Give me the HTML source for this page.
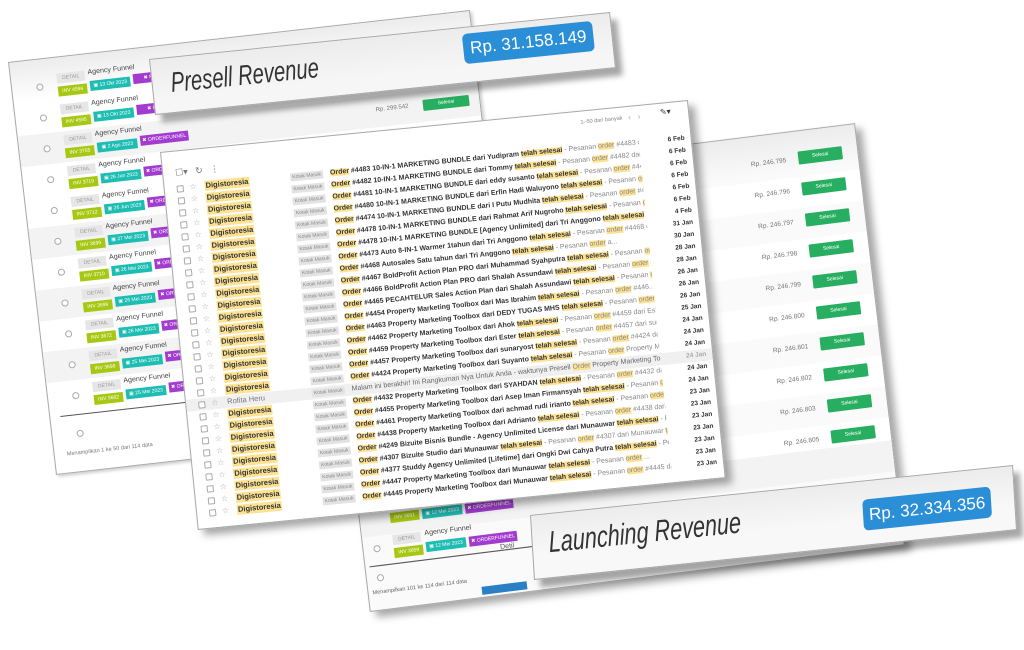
<!DOCTYPE html>
<html><head><meta charset="utf-8">
<style>
*{margin:0;padding:0;box-sizing:border-box}
body{width:1024px;height:650px;background:#fff;position:relative;overflow:hidden;font-family:"Liberation Sans",sans-serif}
.p{position:absolute;left:0;top:0;transform-origin:0 0;background:#fff;border:1px solid #a8a8a8;overflow:hidden}
.p .bg{position:absolute;left:0;top:0;right:0;height:40px;background:linear-gradient(#ececec,rgba(255,255,255,0))}
.cb{position:absolute;width:7px;height:7px;border:1px solid #aaa;border-radius:2px;background:#fff}
.ar{position:absolute;left:0;width:100%;height:31px}
.ar .cb{left:24px;top:12px;border-radius:50%}
.dtl{position:absolute;left:45px;top:4px;width:28px;height:10px;background:#e6e6e6;color:#999;font-size:5px;line-height:10px;text-align:center}
.af{position:absolute;left:76px;top:3px;font-size:7px;color:#444}
.inv{position:absolute;left:45px;top:17px;width:29px;height:10px;background:#a6c812;color:#fff;font-size:5px;line-height:10px;text-align:center}
.dte{position:absolute;left:77px;top:15px;width:40px;height:10px;background:#1dbdb3;color:#fff;font-size:5px;line-height:10px;text-align:center}
.of{position:absolute;left:120px;top:13px;width:48px;height:10px;background:#a33bd0;color:#fff;font-size:5px;line-height:10px;text-align:center}
.er{position:absolute;left:0;width:100%;height:12px;font-size:7px;line-height:12px;white-space:nowrap}
.er .cb{left:12px;top:3px;border-radius:1px}
.er .st{position:absolute;left:25px;top:0;color:#aaa;font-style:normal;font-size:8px}
.snd{position:absolute;left:40px;top:1px;line-height:10px;background:#fde293;color:#333;font-size:7.5px;padding:0 1px}
.km{position:absolute;left:126px;top:2px;height:8px;line-height:8px;background:#e3e3e3;color:#888;font-size:5px;padding:0 2px}
.sub{position:absolute;left:166px;top:0;width:310px;overflow:hidden;color:#888}
.sub b{color:#333}
mark{background:#fde293;color:#333}
.sub>mark{color:#888}
.dt{position:absolute;left:488px;width:34px;text-align:right;color:#333;font-weight:bold;font-size:6.5px}
.dr{position:absolute;left:0;width:100%;height:31px}
.rp{position:absolute;left:400px;width:62px;text-align:right;top:10px;font-size:6.5px;color:#777}
.sl{position:absolute;left:474px;top:6px;width:44px;height:13px;background:#27ae60;color:#fff;font-size:5px;line-height:13px;text-align:center;border-radius:1px}
.ttl{position:absolute;font-style:italic;color:#333;white-space:nowrap;transform-origin:0 0;font-weight:normal}
.bdg{position:absolute;background:#2b8fd8;color:#fff;border-radius:5px;text-align:center;white-space:nowrap;overflow:hidden}
</style></head><body>

<div class="p" style="width:460px;height:415px;transform:matrix(1.004,-0.113,0.1157,0.995,8,62);box-shadow:2px 2px 3px rgba(0,0,0,.2)">
<div class="bg"></div>
<div class="ar" style="top:12px"><i class="cb"></i><span class="dtl">DETAIL</span><span class="af">Agency Funnel</span><span class="inv">INV 4596</span><span class="dte">▣ 13 Okt 2023</span><span class="of">✖ PRODUK</span></div>
<div class="ar" style="top:43px"><i class="cb"></i><span class="dtl">DETAIL</span><span class="af">Agency Funnel</span><span class="inv">INV 4595</span><span class="dte">▣ 13 Okt 2023</span><span class="of">✖ PRODUK</span></div>
<div class="ar" style="top:74px;background:#f3f3f3"><i class="cb"></i><span class="dtl">DETAIL</span><span class="af">Agency Funnel</span><span class="inv">INV 3755</span><span class="dte">▣ 2 Agu 2023</span><span class="of">✖ ORDERFUNNEL</span><span style="position:absolute;left:355px;top:11px;font-size:6px;color:#777">Rp. 299.542</span><span class="sl" style="left:402px;top:9px;width:46px;height:11px;line-height:11px">Selesai</span></div>
<div class="ar" style="top:105px"><i class="cb"></i><span class="dtl">DETAIL</span><span class="af">Agency Funnel</span><span class="inv">INV 3719</span><span class="dte">▣ 26 Jun 2023</span><span class="of">✖ ORDERFUNNEL</span></div>
<div class="ar" style="top:136px"><i class="cb"></i><span class="dtl">DETAIL</span><span class="af">Agency Funnel</span><span class="inv">INV 3712</span><span class="dte">▣ 26 Jun 2023</span><span class="of">✖ ORDERFUNNEL</span></div>
<div class="ar" style="top:167px;background:#f3f3f3"><i class="cb"></i><span class="dtl">DETAIL</span><span class="af">Agency Funnel</span><span class="inv">INV 3699</span><span class="dte">▣ 27 Mei 2023</span><span class="of">✖ ORDERFUNNEL</span></div>
<div class="ar" style="top:198px"><i class="cb"></i><span class="dtl">DETAIL</span><span class="af">Agency Funnel</span><span class="inv">INV 3710</span><span class="dte">▣ 26 Mei 2023</span><span class="of">✖ ORDERFUNNEL</span></div>
<div class="ar" style="top:229px;background:#f3f3f3"><i class="cb"></i><span class="dtl">DETAIL</span><span class="af">Agency Funnel</span><span class="inv">INV 3699</span><span class="dte">▣ 26 Mei 2023</span><span class="of">✖ ORDERFUNNEL</span></div>
<div class="ar" style="top:260px"><i class="cb"></i><span class="dtl">DETAIL</span><span class="af">Agency Funnel</span><span class="inv">INV 3672</span><span class="dte">▣ 26 Mei 2023</span><span class="of">✖ ORDERFUNNEL</span></div>
<div class="ar" style="top:291px;background:#f3f3f3"><i class="cb"></i><span class="dtl">DETAIL</span><span class="af">Agency Funnel</span><span class="inv">INV 3698</span><span class="dte">▣ 25 Mei 2023</span><span class="of">✖ ORDERFUNNEL</span></div>
<div class="ar" style="top:322px"><i class="cb"></i><span class="dtl">DETAIL</span><span class="af">Agency Funnel</span><span class="inv">INV 3682</span><span class="dte">▣ 25 Mei 2023</span><span class="of">✖ ORDERFUNNEL</span></div>
<div style="position:absolute;left:10px;top:356px;width:440px;border-top:1px solid #555"></div>
<span style="position:absolute;left:148px;top:360px;font-size:7px;color:#555">Detil</span>
<i class="cb" style="left:24px;top:372px;border-radius:50%"></i>
<span style="position:absolute;left:12px;top:392px;font-size:5.5px;color:#777">Menampilkan 1 ke 50 dari 114 data</span>
</div>

<div class="p" style="width:535px;height:422px;transform:matrix(1,-0.125,0.118,1,320,190);background:#fafafa;box-shadow:6px 6px 8px rgba(0,0,0,.35)">
<div class="bg"></div>
<div class="dr" style="top:14px"><span class="rp">Rp. 246.795</span><span class="sl">Selesai</span></div>
<div class="dr" style="top:45px;background:#fff"><span class="rp">Rp. 246.796</span><span class="sl">Selesai</span></div>
<div class="dr" style="top:76px"><span class="rp">Rp. 246.797</span><span class="sl">Selesai</span></div>
<div class="dr" style="top:107px;background:#fff"><span class="rp">Rp. 246.798</span><span class="sl">Selesai</span></div>
<div class="dr" style="top:138px"><span class="rp">Rp. 246.799</span><span class="sl">Selesai</span></div>
<div class="dr" style="top:169px;background:#fff"><span class="rp">Rp. 246.800</span><span class="sl">Selesai</span></div>
<div class="dr" style="top:200px"><span class="rp">Rp. 246.801</span><span class="sl">Selesai</span></div>
<div class="dr" style="top:231px;background:#fff"><span class="rp">Rp. 246.802</span><span class="sl">Selesai</span></div>
<div class="dr" style="top:262px"><span class="rp">Rp. 246.803</span><span class="sl">Selesai</span></div>
<div class="dr" style="top:293px;background:#fff"><span class="rp">Rp. 246.805</span><span class="sl">Selesai</span></div>
<div class="dr" style="top:324px"><span class="rp">Rp. 246.806</span><span class="sl">Selesai</span></div>
<div class="ar" style="top:316px;background:#f3f3f3"><span class="inv" style="left:30px;top:10px">INV 3661</span><span class="dte" style="left:62px;top:10px">▣ 12 Mei 2023</span><span class="of" style="left:105px;top:10px">✖ ORDERFUNNEL</span></div>
<div class="ar" style="top:344px"><i class="cb" style="left:10px"></i><span class="dtl" style="left:30px">DETAIL</span><span class="af" style="left:62px">Agency Funnel</span><span class="inv" style="left:30px">INV 3659</span><span class="dte" style="left:62px">▣ 12 Mei 2023</span><span class="of" style="left:105px;top:15px">✖ ORDERFUNNEL</span></div>
<div style="position:absolute;left:4px;top:376px;width:520px;border-top:1px solid #555"></div>
<span style="position:absolute;left:135px;top:370px;font-size:7px;color:#555">Detil</span>
<i class="cb" style="left:10px;top:385px;border-radius:50%"></i>
<span style="position:absolute;left:4px;top:400px;font-size:5.5px;color:#666">Menampilkan 101 ke 114 dari 114 data</span>
<div style="position:absolute;left:112px;top:410px;width:45px;height:8px;background:#2b7fc4"></div>
</div>

<div class="p" style="width:461px;height:56px;transform:matrix(1,-0.102,0.107,1,149,59);background:#f6f6f6;box-shadow:6px 8px 6px rgba(0,0,0,.35)">
<div class="bg"></div>
<span class="ttl" style="left:18px;top:9px;font-size:28px;transform:scaleX(0.72)">Presell Revenue</span>
<div class="bdg" style="left:311px;top:6px;width:130px;height:30px;font-size:17px;line-height:30px">Rp. 31.158.149</div>
</div>

<div class="p" style="width:530px;height:378px;transform:matrix(0.996,-0.098,0.1,1,160,152);box-shadow:6px 6px 8px rgba(0,0,0,.35)">
<span style="position:absolute;left:12px;top:16px;font-size:9px;color:#777">☐▾ &nbsp; ↻ &nbsp; ⋮</span>
<span style="position:absolute;left:420px;top:8px;font-size:5.5px;color:#888">1–50 dari banyak</span>
<span style="position:absolute;left:468px;top:6px;font-size:8px;color:#aaa">‹ &nbsp; ›</span>
<span style="position:absolute;left:500px;top:4px;font-size:8px;color:#333">✎▾</span>
<div class="er" style="top:31px"><i class="cb"></i><i class="st">☆</i><b class="snd">Digistoresia</b><span class="km">Kotak Masuk</span><span class="sub"><b><mark>Order</mark> #4483 10-IN-1 MARKETING BUNDLE dari Yudipram <mark>telah selesai</mark></b> - Pesanan <mark>order</mark> #4483 dari Yu...</span><span class="dt">6 Feb</span></div>
<div class="er" style="top:43px"><i class="cb"></i><i class="st">☆</i><b class="snd">Digistoresia</b><span class="km">Kotak Masuk</span><span class="sub"><b><mark>Order</mark> #4482 10-IN-1 MARKETING BUNDLE dari Tommy <mark>telah selesai</mark></b> - Pesanan <mark>order</mark> #4482 dari Tom...</span><span class="dt">6 Feb</span></div>
<div class="er" style="top:55px"><i class="cb"></i><i class="st">☆</i><b class="snd">Digistoresia</b><span class="km">Kotak Masuk</span><span class="sub"><b><mark>Order</mark> #4481 10-IN-1 MARKETING BUNDLE dari eddy susanto <mark>telah selesai</mark></b> - Pesanan <mark>order</mark> #4481 dar...</span><span class="dt">6 Feb</span></div>
<div class="er" style="top:67px"><i class="cb"></i><i class="st">☆</i><b class="snd">Digistoresia</b><span class="km">Kotak Masuk</span><span class="sub"><b><mark>Order</mark> #4480 10-IN-1 MARKETING BUNDLE dari Erfin Hadi Waluyono <mark>telah selesai</mark></b> - Pesanan <mark>order</mark> a...</span><span class="dt">6 Feb</span></div>
<div class="er" style="top:79px"><i class="cb"></i><i class="st">☆</i><b class="snd">Digistoresia</b><span class="km">Kotak Masuk</span><span class="sub"><b><mark>Order</mark> #4474 10-IN-1 MARKETING BUNDLE dari I Putu Mudhita <mark>telah selesai</mark></b> - Pesanan <mark>order</mark> #4474 d...</span><span class="dt">6 Feb</span></div>
<div class="er" style="top:91px"><i class="cb"></i><i class="st">☆</i><b class="snd">Digistoresia</b><span class="km">Kotak Masuk</span><span class="sub"><b><mark>Order</mark> #4478 10-IN-1 MARKETING BUNDLE dari Rahmat Arif Nugroho <mark>telah selesai</mark></b> - Pesanan <mark>order</mark> a...</span><span class="dt">6 Feb</span></div>
<div class="er" style="top:103px"><i class="cb"></i><i class="st">☆</i><b class="snd">Digistoresia</b><span class="km">Kotak Masuk</span><span class="sub"><b><mark>Order</mark> #4478 10-IN-1 MARKETING BUNDLE [Agency Unlimited] dari Tri Anggono <mark>telah selesai</mark></b> - Pesana...</span><span class="dt">4 Feb</span></div>
<div class="er" style="top:115px"><i class="cb"></i><i class="st">☆</i><b class="snd">Digistoresia</b><span class="km">Kotak Masuk</span><span class="sub"><b><mark>Order</mark> #4473 Auto 8-IN-1 Warmer 1tahun dari Tri Anggono <mark>telah selesai</mark></b> - Pesanan <mark>order</mark> #4468 dari Tri Angg...</span><span class="dt">31 Jan</span></div>
<div class="er" style="top:127px"><i class="cb"></i><i class="st">☆</i><b class="snd">Digistoresia</b><span class="km">Kotak Masuk</span><span class="sub"><b><mark>Order</mark> #4468 Autosales Satu tahun dari Tri Anggono <mark>telah selesai</mark></b> - Pesanan <mark>order</mark> a...</span><span class="dt">30 Jan</span></div>
<div class="er" style="top:139px"><i class="cb"></i><i class="st">☆</i><b class="snd">Digistoresia</b><span class="km">Kotak Masuk</span><span class="sub"><b><mark>Order</mark> #4467 BoldProfit Action Plan PRO dari Muhammad Syahputra <mark>telah selesai</mark></b> - Pesanan <mark>order</mark> #4466 ...</span><span class="dt">28 Jan</span></div>
<div class="er" style="top:151px"><i class="cb"></i><i class="st">☆</i><b class="snd">Digistoresia</b><span class="km">Kotak Masuk</span><span class="sub"><b><mark>Order</mark> #4466 BoldProfit Action Plan PRO dari Shalah Assundawi <mark>telah selesai</mark></b> - Pesanan <mark>order</mark> a...</span><span class="dt">28 Jan</span></div>
<div class="er" style="top:163px"><i class="cb"></i><i class="st">☆</i><b class="snd">Digistoresia</b><span class="km">Kotak Masuk</span><span class="sub"><b><mark>Order</mark> #4465 PECAHTELUR Sales Action Plan dari Shalah Assundawi <mark>telah selesai</mark></b> - Pesanan <mark>order</mark> #4454 dari ...</span><span class="dt">26 Jan</span></div>
<div class="er" style="top:175px"><i class="cb"></i><i class="st">☆</i><b class="snd">Digistoresia</b><span class="km">Kotak Masuk</span><span class="sub"><b><mark>Order</mark> #4454 Property Marketing Toolbox dari Mas Ibrahim <mark>telah selesai</mark></b> - Pesanan <mark>order</mark> #446...</span><span class="dt">26 Jan</span></div>
<div class="er" style="top:187px"><i class="cb"></i><i class="st">☆</i><b class="snd">Digistoresia</b><span class="km">Kotak Masuk</span><span class="sub"><b><mark>Order</mark> #4463 Property Marketing Toolbox dari DEDY TUGAS MHS <mark>telah selesai</mark></b> - Pesanan <mark>order</mark> #4462 dari Ahok <mark>tel...</mark></span><span class="dt">26 Jan</span></div>
<div class="er" style="top:199px"><i class="cb"></i><i class="st">☆</i><b class="snd">Digistoresia</b><span class="km">Kotak Masuk</span><span class="sub"><b><mark>Order</mark> #4462 Property Marketing Toolbox dari Ahok <mark>telah selesai</mark></b> - Pesanan <mark>order</mark> #4459 dari Ester <mark>tel...</mark></span><span class="dt">25 Jan</span></div>
<div class="er" style="top:211px"><i class="cb"></i><i class="st">☆</i><b class="snd">Digistoresia</b><span class="km">Kotak Masuk</span><span class="sub"><b><mark>Order</mark> #4459 Property Marketing Toolbox dari Ester <mark>telah selesai</mark></b> - Pesanan <mark>order</mark> #4457 dari sun...</span><span class="dt">24 Jan</span></div>
<div class="er" style="top:223px"><i class="cb"></i><i class="st">☆</i><b class="snd">Digistoresia</b><span class="km">Kotak Masuk</span><span class="sub"><b><mark>Order</mark> #4457 Property Marketing Toolbox dari sunaryost <mark>telah selesai</mark></b> - Pesanan <mark>order</mark> #4424 dari Suya...</span><span class="dt">24 Jan</span></div>
<div class="er" style="top:235px"><i class="cb"></i><i class="st">☆</i><b class="snd">Digistoresia</b><span class="km">Kotak Masuk</span><span class="sub"><b><mark>Order</mark> #4424 Property Marketing Toolbox dari Suyanto <mark>telah selesai</mark></b> - Pesanan <mark>order</mark> Property Marketing Toolbox a...</span><span class="dt">24 Jan</span></div>
<div class="er" style="top:247px;background:#f0f0f0"><i class="cb"></i><i class="st">☆</i><span class="snd" style="background:none;color:#777;font-weight:normal">Rofita Heru</span><span class="km">Kotak Masuk</span><span class="sub" style="color:#666">Malam ini berakhir! Ini Rangkuman Nya Untuk Anda - waktunya Presell <mark>Order</mark> Property Marketing Toolbox a...</span><span class="dt" style="color:#aaa">24 Jan</span></div>
<div class="er" style="top:259px"><i class="cb"></i><i class="st">☆</i><b class="snd">Digistoresia</b><span class="km">Kotak Masuk</span><span class="sub"><b><mark>Order</mark> #4432 Property Marketing Toolbox dari SYAHDAN <mark>telah selesai</mark></b> - Pesanan <mark>order</mark> #4432 dari SYA...</span><span class="dt">24 Jan</span></div>
<div class="er" style="top:271px"><i class="cb"></i><i class="st">☆</i><b class="snd">Digistoresia</b><span class="km">Kotak Masuk</span><span class="sub"><b><mark>Order</mark> #4455 Property Marketing Toolbox dari Asep Iman Firmansyah <mark>telah selesai</mark></b> - Pesanan <mark>order</mark> ...</span><span class="dt">24 Jan</span></div>
<div class="er" style="top:283px"><i class="cb"></i><i class="st">☆</i><b class="snd">Digistoresia</b><span class="km">Kotak Masuk</span><span class="sub"><b><mark>Order</mark> #4461 Property Marketing Toolbox dari achmad rudi irianto <mark>telah selesai</mark></b> - Pesanan <mark>order</mark> #44...</span><span class="dt">23 Jan</span></div>
<div class="er" style="top:295px"><i class="cb"></i><i class="st">☆</i><b class="snd">Digistoresia</b><span class="km">Kotak Masuk</span><span class="sub"><b><mark>Order</mark> #4438 Property Marketing Toolbox dari Adrianto <mark>telah selesai</mark></b> - Pesanan <mark>order</mark> #4438 dari Adri...</span><span class="dt">23 Jan</span></div>
<div class="er" style="top:307px"><i class="cb"></i><i class="st">☆</i><b class="snd">Digistoresia</b><span class="km">Kotak Masuk</span><span class="sub"><b><mark>Order</mark> #4249 Bizuite Bisnis Bundle - Agency Unlimited License dari Munauwar <mark>telah selesai</mark></b> - Pesan...</span><span class="dt">23 Jan</span></div>
<div class="er" style="top:319px"><i class="cb"></i><i class="st">☆</i><b class="snd">Digistoresia</b><span class="km">Kotak Masuk</span><span class="sub"><b><mark>Order</mark> #4307 Bizuite Studio dari Munauwar <mark>telah selesai</mark></b> - Pesanan <mark>order</mark> #4307 dari Munauwar <mark>telah s...</mark></span><span class="dt">23 Jan</span></div>
<div class="er" style="top:331px"><i class="cb"></i><i class="st">☆</i><b class="snd">Digistoresia</b><span class="km">Kotak Masuk</span><span class="sub"><b><mark>Order</mark> #4377 Studdy Agency Unlimited [Lifetime] dari Ongki Dwi Cahya Putra <mark>telah selesai</mark></b> - Pesanan <mark>order</mark> ...</span><span class="dt">23 Jan</span></div>
<div class="er" style="top:343px"><i class="cb"></i><i class="st">☆</i><b class="snd">Digistoresia</b><span class="km">Kotak Masuk</span><span class="sub"><b><mark>Order</mark> #4447 Property Marketing Toolbox dari Munauwar <mark>telah selesai</mark></b> - Pesanan <mark>order</mark> ...</span><span class="dt">23 Jan</span></div>
<div class="er" style="top:355px"><i class="cb"></i><i class="st">☆</i><b class="snd">Digistoresia</b><span class="km">Kotak Masuk</span><span class="sub"><b><mark>Order</mark> #4445 Property Marketing Toolbox dari Munauwar <mark>telah selesai</mark></b> - Pesanan <mark>order</mark> #4445 dari M...</span><span class="dt">23 Jan</span></div>
</div>

<div class="p" style="width:483px;height:65px;transform:matrix(1,-0.1035,0.0615,1,530,515);background:#f8f8f8;box-shadow:6px 8px 6px rgba(0,0,0,.35)">
<div class="bg"></div>
<span class="ttl" style="left:16px;top:12px;font-size:30px;transform:scaleX(0.72)">Launching Revenue</span>
<div class="bdg" style="left:330px;top:18px;width:128px;height:31px;font-size:17px;line-height:31px">Rp. 32.334.356</div>
</div>

</body></html>
